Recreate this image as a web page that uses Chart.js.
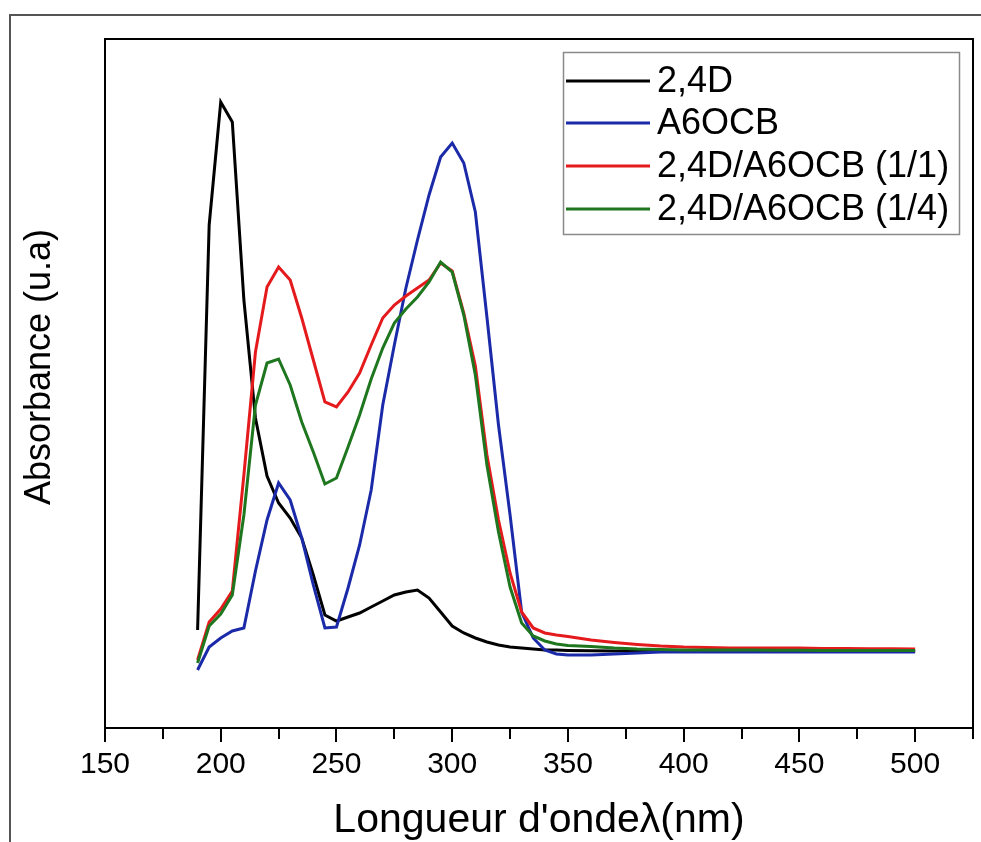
<!DOCTYPE html>
<html>
<head>
<meta charset="utf-8">
<script src="https://cdn.jsdelivr.net/npm/chart.js@4.4.1/dist/chart.umd.min.js"></script>
<style>
  html, body { margin: 0; padding: 0; background: #fff; }
  #wrap { width: 981px; height: 842px; position: relative; }
</style>
</head>
<body>
<div id="wrap"><canvas id="c"></canvas></div>
<script>
// Wavelengths (nm): 5 nm steps through the bands, 10 nm steps over the flat tail
const wavelengths = [
  190,195,200,205,210,215,220,225,230,235,240,245,250,255,260,265,270,275,280,285,
  290,295,300,305,310,315,320,325,330,335,340,345,350,
  360,370,380,390,400,410,420,430,440,450,460,470,480,490,500
];

// Absorbance (arbitrary units)
const abs24D = [
  0.49,2.515,3.13,3.03,2.14,1.55,1.26,1.125,1.05,0.95,0.765,0.565,0.535,0.555,0.575,0.605,0.635,0.665,0.68,0.69,
  0.65,0.58,0.51,0.475,0.45,0.43,0.415,0.405,0.40,0.395,0.39,0.39,0.388,
  0.386,0.385,0.385,0.385,0.385,0.385,0.385,0.385,0.385,0.385,0.385,0.385,0.385,0.385,0.385
];
const absA6OCB = [
  0.29,0.405,0.45,0.485,0.50,0.785,1.04,1.225,1.14,0.95,0.715,0.50,0.505,0.70,0.915,1.19,1.615,1.915,2.20,2.44,
  2.665,2.855,2.925,2.825,2.58,2.055,1.515,1.065,0.58,0.45,0.39,0.37,0.365,
  0.365,0.37,0.375,0.38,0.38,0.38,0.38,0.38,0.38,0.38,0.38,0.38,0.38,0.38,0.38
];
const absMix11 = [
  0.34,0.53,0.595,0.685,1.265,1.88,2.205,2.305,2.24,2.05,1.84,1.63,1.605,1.68,1.775,1.915,2.05,2.115,2.16,2.20,
  2.24,2.325,2.285,2.075,1.81,1.365,1.04,0.775,0.58,0.50,0.475,0.465,0.458,
  0.44,0.428,0.418,0.41,0.405,0.403,0.40,0.40,0.40,0.40,0.398,0.397,0.396,0.396,0.395
];
const absMix14 = [
  0.325,0.51,0.57,0.665,1.065,1.615,1.825,1.845,1.715,1.53,1.38,1.22,1.25,1.405,1.565,1.745,1.90,2.025,2.095,2.155,
  2.23,2.33,2.28,2.065,1.765,1.315,0.98,0.705,0.525,0.46,0.435,0.42,0.413,
  0.408,0.40,0.395,0.393,0.39,0.39,0.39,0.39,0.389,0.389,0.388,0.388,0.387,0.387,0.387
];

const seriesNames = ['2,4D', 'A6OCB', '2,4D/A6OCB (1/1)', '2,4D/A6OCB (1/4)'];
const seriesColors = ['#000000', '#1b2aa8', '#e41a1c', '#1e761e'];
const xTickValues = [150, 200, 250, 300, 350, 400, 450, 500];
const xTitle = "Longueur d'ondeλ(nm)";
const yTitle = 'Absorbance (u.a)';

const FONT = '"Liberation Sans", Arial, sans-serif';

function pts(values) {
  return wavelengths.map((w, i) => ({ x: w, y: values[i] }));
}

// Frame, tick marks, outer border, y title and boxed legend
const decorations = {
  id: 'decorations',
  beforeDraw(chart) {
    const ctx = chart.ctx;
    ctx.save();
    ctx.fillStyle = '#ffffff';
    ctx.fillRect(0, 0, chart.width, chart.height);
    ctx.strokeStyle = '#555555';
    ctx.lineWidth = 2;
    ctx.strokeRect(10, 15, chart.width + 40, chart.height + 40);
    ctx.restore();
  },
  afterDraw(chart) {
    const ctx = chart.ctx;
    const a = chart.chartArea;
    const xs = chart.scales.x;
    ctx.save();
    // plot frame
    ctx.strokeStyle = '#000';
    ctx.lineWidth = 2;
    ctx.strokeRect(a.left, a.top, a.right - a.left, a.bottom - a.top);
    // x tick marks: majors every 50, minors every 25
    ctx.beginPath();
    for (let v = xs.min; v <= xs.max + 0.001; v += 25) {
      const px = Math.round(xs.getPixelForValue(v));
      const len = (v % 50 === 0) ? 14 : 11;
      ctx.moveTo(px, a.bottom);
      ctx.lineTo(px, a.bottom + len);
    }
    ctx.stroke();

    // y axis title
    ctx.fillStyle = '#000';
    ctx.font = '36px ' + FONT;
    ctx.textAlign = 'center';
    ctx.textBaseline = 'middle';
    ctx.translate(40, 367);
    ctx.rotate(-Math.PI / 2);
    ctx.fillText(yTitle, 0, 0);
    ctx.setTransform(1, 0, 0, 1, 0, 0);

    // legend
    const bx = 563, by = 52, bw = 396, bh = 182;
    ctx.fillStyle = '#fff';
    ctx.fillRect(bx, by, bw, bh);
    ctx.strokeStyle = '#8a8a8a';
    ctx.lineWidth = 1.5;
    ctx.strokeRect(bx + 0.5, by + 0.5, bw, bh);
    const rowY = [81, 123, 166, 209];
    ctx.font = '36px ' + FONT;
    ctx.textAlign = 'left';
    ctx.textBaseline = 'middle';
    seriesNames.forEach((name, i) => {
      ctx.strokeStyle = seriesColors[i];
      ctx.lineWidth = 3;
      ctx.beginPath();
      ctx.moveTo(566, rowY[i]);
      ctx.lineTo(650, rowY[i]);
      ctx.stroke();
      ctx.fillStyle = '#000';
      ctx.fillText(name, 657, rowY[i] + 1);
    });
    ctx.restore();
  }
};

const values = [abs24D, absA6OCB, absMix11, absMix14];
const drawOrder = [4, 3, 2, 1];

new Chart(document.getElementById('c'), {
  type: 'line',
  data: {
    datasets: values.map((v, i) => ({
      label: seriesNames[i],
      data: pts(v),
      borderColor: seriesColors[i],
      backgroundColor: seriesColors[i],
      borderWidth: 3,
      pointRadius: 0,
      tension: 0,
      fill: false,
      order: drawOrder[i]
    }))
  },
  options: {
    responsive: true,
    maintainAspectRatio: false,
    animation: false,
    devicePixelRatio: 1,
    layout: { padding: { left: 105, right: 8, top: 39, bottom: 1 } },
    plugins: { legend: { display: false }, tooltip: { enabled: false } },
    scales: {
      x: {
        type: 'linear',
        min: 150,
        max: 525,
        grid: { display: false, drawTicks: false },
        border: { display: false },
        afterBuildTicks(scale) {
          scale.ticks = xTickValues.map(v => ({ value: v }));
        },
        afterFit(scale) { scale.height = 113; },
        ticks: {
          color: '#000',
          padding: 19,
          maxRotation: 0,
          font: { family: FONT, size: 30 }
        },
        title: {
          display: true,
          text: xTitle,
          color: '#000',
          padding: 0,
          font: { family: FONT, size: 41, lineHeight: 1 }
        }
      },
      y: {
        min: 0,
        max: 3.445,
        display: false
      }
    }
  },
  plugins: [decorations]
});
</script>
</body>
</html>
